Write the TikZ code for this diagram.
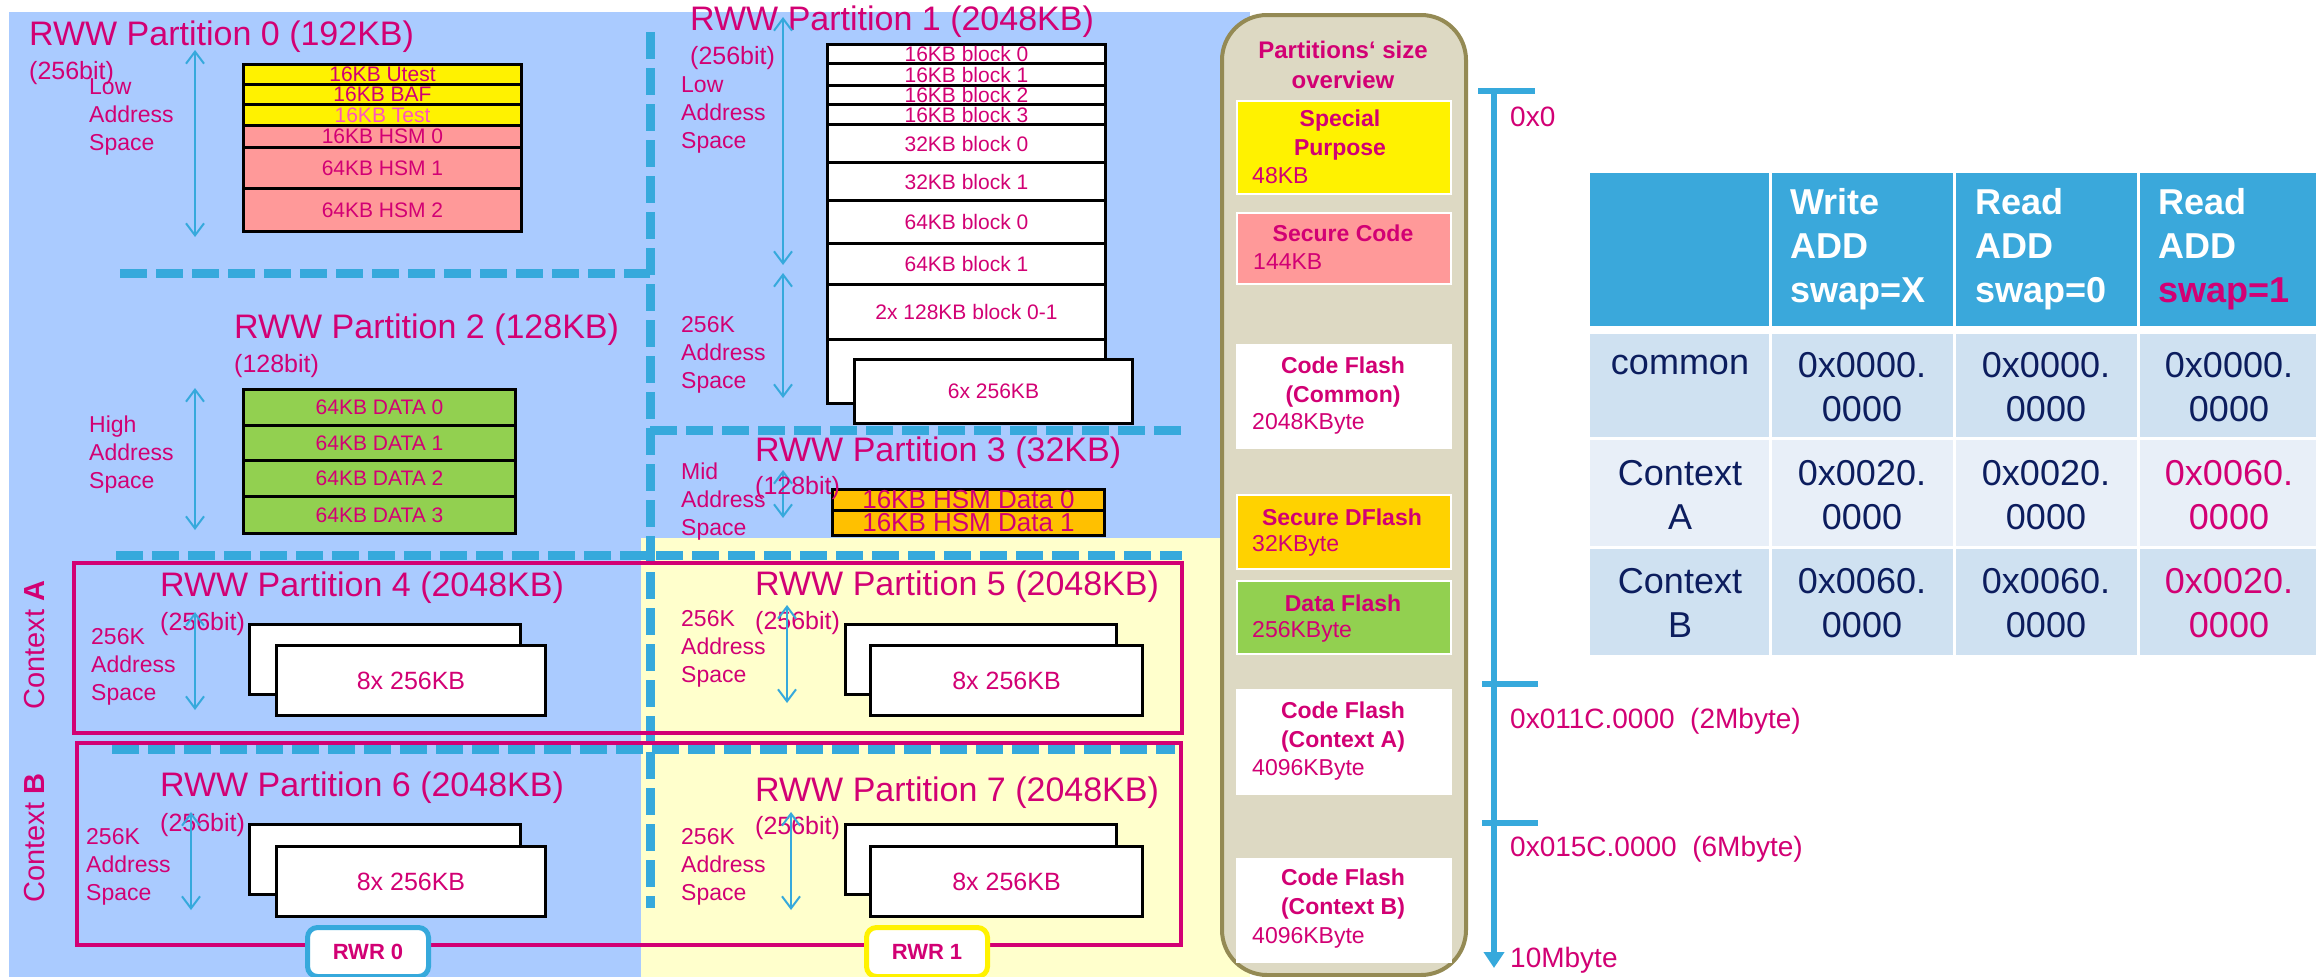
\documentclass[tikz,border=0pt]{standalone}
\usepackage{fontspec}
\setmainfont{Liberation Sans}
\usetikzlibrary{arrows.meta}
\definecolor{mag}{HTML}{D20074}
\definecolor{lpink}{HTML}{FF55BB}
\definecolor{dblue}{HTML}{36A9DC}
\definecolor{bgblue}{HTML}{AACBFF}
\definecolor{bgyel}{HTML}{FFFFCC}
\definecolor{pfill}{HTML}{DDD9C3}
\definecolor{pborder}{HTML}{948A54}
\definecolor{pinkbox}{HTML}{FF9999}
\definecolor{greenbox}{HTML}{92D050}
\definecolor{orangebox}{HTML}{FFC000}
\definecolor{goldbox}{HTML}{FFD200}
\definecolor{hdrblue}{HTML}{3AA8DB}
\definecolor{rowa}{HTML}{CFE1F1}
\definecolor{rowb}{HTML}{E8EFF8}
\definecolor{navy}{HTML}{0C1D5E}
\newcommand\fsz[2]{\fontsize{#1pt}{#2pt}\selectfont}
\begin{document}
\begin{tikzpicture}[x=1pt,y=-1pt,
  ttl/.style={text=mag,font=\fsz{34}{40},anchor=west,inner sep=0pt},
  bits/.style={text=mag,font=\fsz{25}{30},anchor=west,inner sep=0pt},
  addr/.style={text=mag,font=\fsz{23}{28},anchor=west,align=left,inner sep=0pt},
  blk/.style={draw=black,line width=3pt,fill=white,inner sep=0pt,text=mag,font=\fsz{21}{25},anchor=north west},
  bigblk/.style={blk,font=\fsz{25}{30},minimum width=270pt,minimum height=70pt},
  dashln/.style={draw=dblue,line width=9pt,dash pattern=on 27pt off 9pt},
  varrow/.style={draw=dblue,line width=2pt,{Straight Barb[length=12pt,width=18pt]}-{Straight Barb[length=12pt,width=18pt]}},
  ctxbox/.style={draw=mag,line width=4.5pt},
  ctxlbl/.style={text=mag,font=\fsz{29}{34},rotate=90,inner sep=0pt},
  rwr/.style={draw=#1,line width=5pt,fill=white,rounded corners=10pt,text=mag,font=\bfseries\fsz{22}{26},minimum width=121pt,minimum height=49pt,inner sep=0pt,anchor=north west},
  pbox/.style={draw=white,line width=1.5pt,minimum width=214pt,inner sep=0pt,anchor=north west},
  ptitle/.style={text=mag,font=\bfseries\fsz{23}{29},align=center,inner sep=0pt},
  psize/.style={text=mag,font=\fsz{23}{28},anchor=west,inner sep=0pt},
  axlbl/.style={text=mag,font=\fsz{28}{32},anchor=west,inner sep=0pt},
  hdrtxt/.style={text=white,font=\bfseries\fsz{36}{44},align=left,anchor=west,inner sep=0pt},
  celltxt/.style={text=navy,font=\fsz{36}{44},align=center,inner sep=0pt}
]
\useasboundingbox (0,0) rectangle (2316,977);
\fill[white] (0,0) rectangle (2316,977);
% backgrounds
\fill[bgblue] (9,12) rectangle (1250,977);
\fill[bgyel] (641,538) rectangle (1250,977);

% dashed dividers
\draw[dashln] (120,273) -- (650,273);
\draw[dashln] (650,32) -- (650,908);
\draw[dashln] (650,430) -- (1182,430);
\draw[dashln] (116,555) -- (1182,555);
\draw[dashln] (112,749) -- (1175,749);

% ---------- Partition 0 ----------
\node[ttl] (t0) at (29,37) {RWW Partition 0 (192KB)};
\node[bits] (b0) at (29,73) {(256bit)};
\node[addr] (a0) at (89,117) {Low\\Address\\Space};
\coordinate (a0t) at (195,50); \coordinate (a0b) at (195,237);
\draw[varrow] (a0t) -- (a0b);
\node[blk,fill=yellow,minimum width=278pt,minimum height=20pt] (p0a) at (242,63) {16KB Utest};
\node[blk,fill=yellow,minimum width=278pt,minimum height=20pt] (p0b) at (242,83) {16KB BAF};
\node[blk,fill=yellow,text=lpink,minimum width=278pt,minimum height=21pt] (p0c) at (242,103) {16KB Test};
\node[blk,fill=pinkbox,minimum width=278pt,minimum height=22pt] (p0d) at (242,124) {16KB HSM 0};
\node[blk,fill=pinkbox,minimum width=278pt,minimum height=41pt] (p0e) at (242,146) {64KB HSM 1};
\node[blk,fill=pinkbox,minimum width=278pt,minimum height=43pt] (p0f) at (242,187) {64KB HSM 2};

% ---------- Partition 1 ----------
\node[ttl] (t1) at (690,22) {RWW Partition 1 (2048KB)};
\node[bits] (b1) at (690,58) {(256bit)};
\node[addr] (a1) at (681,115) {Low\\Address\\Space};
\coordinate (a1t) at (783,17); \coordinate (a1b) at (783,265);
\draw[varrow] (a1t) -- (a1b);
\node[blk,minimum width=278pt,minimum height=19pt] (p1a) at (826,43) {16KB block 0};
\node[blk,minimum width=278pt,minimum height=22pt] (p1b) at (826,62) {16KB block 1};
\node[blk,minimum width=278pt,minimum height=19pt] (p1c) at (826,84) {16KB block 2};
\node[blk,minimum width=278pt,minimum height=20pt] (p1d) at (826,103) {16KB block 3};
\node[blk,minimum width=278pt,minimum height=38pt] (p1e) at (826,123) {32KB block 0};
\node[blk,minimum width=278pt,minimum height=38pt] (p1f) at (826,161) {32KB block 1};
\node[blk,minimum width=278pt,minimum height=43pt] (p1g) at (826,199) {64KB block 0};
\node[blk,minimum width=278pt,minimum height=41pt] (p1h) at (826,242) {64KB block 1};
\node[blk,minimum width=278pt,minimum height=55pt] (p1i) at (826,283) {2x 128KB block 0-1};
\node[blk,minimum width=278pt,minimum height=64pt] (p1j) at (826,338) {};
\node[blk,minimum width=278pt,minimum height=64pt] (p1k) at (853,358) {6x 256KB};
\node[addr] (a1l) at (681,355) {256K\\Address\\Space};
\coordinate (a1lt) at (783,273); \coordinate (a1lb) at (783,398);
\draw[varrow] (a1lt) -- (a1lb);

% ---------- Partition 2 ----------
\node[ttl] (t2) at (234,330) {RWW Partition 2 (128KB)};
\node[bits] (b2) at (234,366) {(128bit)};
\node[addr] (a2) at (89,455) {High\\Address\\Space};
\coordinate (a2t) at (195,388); \coordinate (a2b) at (195,530);
\draw[varrow] (a2t) -- (a2b);
\node[blk,fill=greenbox,minimum width=272pt,minimum height=36pt] (p2a) at (242,388) {64KB DATA 0};
\node[blk,fill=greenbox,minimum width=272pt,minimum height=35pt] (p2b) at (242,424) {64KB DATA 1};
\node[blk,fill=greenbox,minimum width=272pt,minimum height=36pt] (p2c) at (242,459) {64KB DATA 2};
\node[blk,fill=greenbox,minimum width=272pt,minimum height=37pt] (p2d) at (242,495) {64KB DATA 3};

% ---------- Partition 3 ----------
\node[ttl] (t3) at (755,453) {RWW Partition 3 (32KB)};
\node[addr] (a3) at (681,502) {Mid\\Address\\Space};
\coordinate (a3t) at (783,470); \coordinate (a3b) at (783,518);
\draw[varrow] (a3t) -- (a3b);
\node[blk,fill=orangebox,font=\fsz{26}{30},minimum width=272pt,minimum height=21pt] (p3a) at (831,488) {16KB HSM Data 0};
\node[blk,fill=orangebox,font=\fsz{26}{30},minimum width=272pt,minimum height=25pt] (p3b) at (831,509) {16KB HSM Data 1};
\node[bits] (b3) at (755,488) {(128bit)};

% ---------- Context A: Partitions 4, 5 ----------
\draw[ctxbox] (74,563) rectangle (1182,733);
\node[ctxlbl] (ctxa) at (35,645) {Context \textbf{A}};
\node[ttl] (t4) at (160,588) {RWW Partition 4 (2048KB)};
\node[addr] (a4) at (91,667) {256K\\Address\\Space};
\node[bits] (b4) at (160,624) {(256bit)};
\coordinate (a4t) at (195,612); \coordinate (a4b) at (195,710);
\draw[varrow] (a4t) -- (a4b);
\node[bigblk,minimum width=271pt] (p4a) at (248,623) {};
\node[bigblk,minimum width=269pt] (p4b) at (275,644) {8x 256KB};

\node[ttl] (t5) at (755,587) {RWW Partition 5 (2048KB)};
\node[addr] (a5) at (681,649) {256K\\Address\\Space};
\node[bits] (b5) at (755,623) {(256bit)};
\coordinate (a5t) at (787,605); \coordinate (a5b) at (787,703);
\draw[varrow] (a5t) -- (a5b);
\node[bigblk,minimum width=271pt] (p5a) at (844,623) {};
\node[bigblk,minimum width=272pt] (p5b) at (869,644) {8x 256KB};

% ---------- Context B: Partitions 6, 7 ----------
\draw[ctxbox] (77,743) rectangle (1181,945);
\node[ctxlbl] (ctxb) at (35,838) {Context \textbf{B}};
\node[ttl] (t6) at (160,788) {RWW Partition 6 (2048KB)};
\node[addr] (a6) at (86,867) {256K\\Address\\Space};
\node[bits] (b6) at (160,825) {(256bit)};
\coordinate (a6t) at (191,812); \coordinate (a6b) at (191,910);
\draw[varrow] (a6t) -- (a6b);
\node[bigblk,minimum width=271pt] (p6a) at (248,823) {};
\node[bigblk,minimum width=269pt] (p6b) at (275,845) {8x 256KB};

\node[ttl] (t7) at (755,793) {RWW Partition 7 (2048KB)};
\node[addr] (a7) at (681,867) {256K\\Address\\Space};
\node[bits] (b7) at (755,828) {(256bit)};
\coordinate (a7t) at (791,812); \coordinate (a7b) at (791,910);
\draw[varrow] (a7t) -- (a7b);
\node[bigblk,minimum width=271pt] (p7a) at (844,823) {};
\node[bigblk,minimum width=272pt] (p7b) at (869,845) {8x 256KB};

% RWR boxes
\node[rwr=dblue] (rwr0) at (305,925) {RWR 0};
\node[rwr=yellow] (rwr1) at (864,925) {RWR 1};

% ---------- Overview panel ----------
\draw[fill=pfill,draw=pborder,line width=4pt,rounded corners=45pt] (1222,15) rectangle (1466,975);
\node[ptitle,font=\bfseries\fsz{24}{30}] (ptt) at (1343,65) {Partitions‘ size\\overview};
\node[pbox,fill=yellow,minimum height=93pt] (ov1) at (1236,100) {};
\node[ptitle] (ov1t) at (1340,135) {Special\\Purpose};
\node[psize] (ov1s) at (1252,176) {48KB};
\node[pbox,fill=pinkbox,minimum height=71pt] (ov2) at (1236,212) {};
\node[ptitle] (ov2t) at (1343,233) {Secure Code};
\node[psize] (ov2s) at (1253,262) {144KB};
\node[pbox,fill=white,minimum height=103pt] (ov3) at (1236,344) {};
\node[ptitle] (ov3t) at (1343,382) {Code Flash\\(Common)};
\node[psize] (ov3s) at (1252,424) {2048KByte};
\node[pbox,fill=goldbox,minimum height=74pt] (ov4) at (1236,494) {};
\node[ptitle] (ov4t) at (1342,517) {Secure DFlash};
\node[psize] (ov4s) at (1252,546) {32KByte};
\node[pbox,fill=greenbox,minimum height=73pt] (ov5) at (1236,580) {};
\node[ptitle] (ov5t) at (1343,603) {Data Flash};
\node[psize] (ov5s) at (1252,632) {256KByte};
\node[pbox,fill=white,minimum height=104pt] (ov6) at (1236,689) {};
\node[ptitle] (ov6t) at (1343,727) {Code Flash\\(Context A)};
\node[psize] (ov6s) at (1252,770) {4096KByte};
\node[pbox,fill=white,minimum height=103pt] (ov7) at (1236,858) {};
\node[ptitle] (ov7t) at (1343,894) {Code Flash\\(Context B)};
\node[psize] (ov7s) at (1252,938) {4096KByte};

% ---------- Address axis ----------
\coordinate (ax0) at (1494,88);
\coordinate (ax1) at (1494,968);
\draw[dblue,line width=6pt,-{Triangle[length=16pt,width=20pt]}] (ax0) -- (ax1);
\coordinate (tk0a) at (1478,91); \coordinate (tk0b) at (1535,91);
\draw[dblue,line width=6pt] (tk0a) -- (tk0b);
\coordinate (tk1a) at (1482,684); \coordinate (tk1b) at (1538,684);
\draw[dblue,line width=6pt] (tk1a) -- (tk1b);
\coordinate (tk2a) at (1482,823); \coordinate (tk2b) at (1538,823);
\draw[dblue,line width=6pt] (tk2a) -- (tk2b);
\node[axlbl] (ax0l) at (1510,117) {0x0};
\node[axlbl] (ax1l) at (1510,721) {0x011C.0000~~(2Mbyte)};
\node[axlbl] (ax2l) at (1510,849) {0x015C.0000~~(6Mbyte)};
\node[axlbl] (ax3l) at (1510,960) {10Mbyte};

% ---------- Table ----------
\fill[hdrblue] (1590,173) rectangle (1769,326);
\fill[hdrblue] (1772,173) rectangle (1953,326);
\fill[hdrblue] (1956,173) rectangle (2137,326);
\fill[hdrblue] (2140,173) rectangle (2316,326);
\foreach \ya/\yb/\cc in {334/437/rowa,440/546/rowb,549/655/rowa}{
  \fill[\cc] (1590,\ya) rectangle (1769,\yb);
  \fill[\cc] (1772,\ya) rectangle (1953,\yb);
  \fill[\cc] (1956,\ya) rectangle (2137,\yb);
  \fill[\cc] (2140,\ya) rectangle (2316,\yb);
}
\node[hdrtxt] (h1) at (1790,249) {Write\\ADD\\swap=X};
\node[hdrtxt] (h2) at (1975,249) {Read\\ADD\\swap=0};
\node[hdrtxt] (h3) at (2158,249) {Read\\ADD\\\textcolor{mag}{swap=1}};

\node[celltxt] (r1c0) at (1680,365) {common};
\node[celltxt] (r1c1) at (1862,387) {0x0000.\\0000};
\node[celltxt] (r1c2) at (2046,387) {0x0000.\\0000};
\node[celltxt] (r1c3) at (2229,387) {0x0000.\\0000};

\node[celltxt] (r2c0) at (1680,495) {Context\\A};
\node[celltxt] (r2c1) at (1862,495) {0x0020.\\0000};
\node[celltxt] (r2c2) at (2046,495) {0x0020.\\0000};
\node[celltxt,text=mag] (r2c3) at (2229,495) {0x0060.\\0000};

\node[celltxt] (r3c0) at (1680,603) {Context\\B};
\node[celltxt] (r3c1) at (1862,603) {0x0060.\\0000};
\node[celltxt] (r3c2) at (2046,603) {0x0060.\\0000};
\node[celltxt,text=mag] (r3c3) at (2229,603) {0x0020.\\0000};
\end{tikzpicture}
\end{document}
